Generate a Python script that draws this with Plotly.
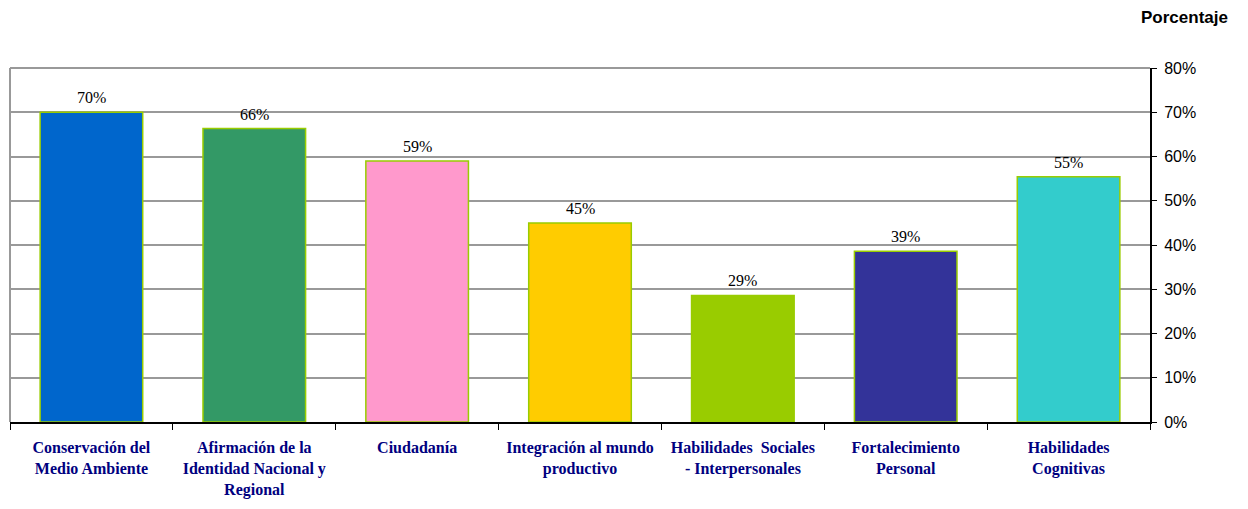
import plotly.graph_objects as go

categorias = [
    "Conservación del<br>Medio Ambiente",
    "Afirmación de la<br>Identidad Nacional y<br>Regional",
    "Ciudadanía",
    "Integración al mundo<br>productivo",
    "Habilidades  Sociales<br>- Interpersonales",
    "Fortalecimiento<br>Personal",
    "Habilidades<br>Cognitivas",
]
porcentajes = [0.70, 0.663, 0.59, 0.45, 0.286, 0.386, 0.554]
colores = ["#0066CC", "#339966", "#FF99CC", "#FFCC00", "#99CC00", "#333399", "#33CCCC"]
ticks_y = [0, 0.1, 0.2, 0.3, 0.4, 0.5, 0.6, 0.7, 0.8]

fig = go.Figure(go.Bar(
    x=categorias,
    y=porcentajes,
    width=0.63,
    marker=dict(color=colores, line=dict(color="#99CC00", width=1.5)),
    hovertemplate="%{y:.0%}<extra></extra>",
))

# etiquetas de valor encima de cada barra
etiquetas = [
    dict(x=c, y=v, text=f"{v:.0%}", showarrow=False, yanchor="bottom", yshift=4,
         font=dict(family="Liberation Serif", size=16, color="black"))
    for c, v in zip(categorias, porcentajes)
]

# page body adds an 8px margin, so figure is sized to fit the window
fig.update_layout(
    width=1240, height=501,
    margin=dict(l=2, r=98, t=60, b=87),
    plot_bgcolor="white", paper_bgcolor="white",
    showlegend=False,
    xaxis=dict(
        tickson="boundaries", ticks="outside", ticklen=6, tickcolor="black",
        showline=True, linecolor="black", linewidth=2,
        tickvals=categorias, ticktext=[f"<b>{c}</b>" for c in categorias],
        tickfont=dict(family="Liberation Serif", size=16, color="#000080"),
        ticklabelstandoff=10,
        showgrid=False,
    ),
    yaxis=dict(
        side="right", range=[0, 0.8], tickvals=ticks_y, tickformat=".0%",
        ticks="outside", ticklen=5, tickcolor="black",
        showline=True, linecolor="black", linewidth=2,
        gridcolor="#999999", gridwidth=1.5,
        tickfont=dict(family="Liberation Sans", size=16, color="black"),
        ticklabelstandoff=4,
        zeroline=False,
    ),
    shapes=[
        dict(type="line", xref="paper", yref="paper", x0=0, x1=0, y0=0, y1=1,
             line=dict(color="#999999", width=2)),
        dict(type="line", xref="paper", yref="paper", x0=0, x1=1, y0=1, y1=1,
             line=dict(color="#999999", width=2)),
    ],
    annotations=etiquetas + [dict(
        text="<b>Porcentaje</b>", xref="paper", yref="paper", x=1.0, y=1,
        xanchor="right", yanchor="bottom", xshift=80, yshift=39, showarrow=False,
        font=dict(family="Liberation Sans", size=17, color="black"),
    )],
)

fig.write_html("out.html")
